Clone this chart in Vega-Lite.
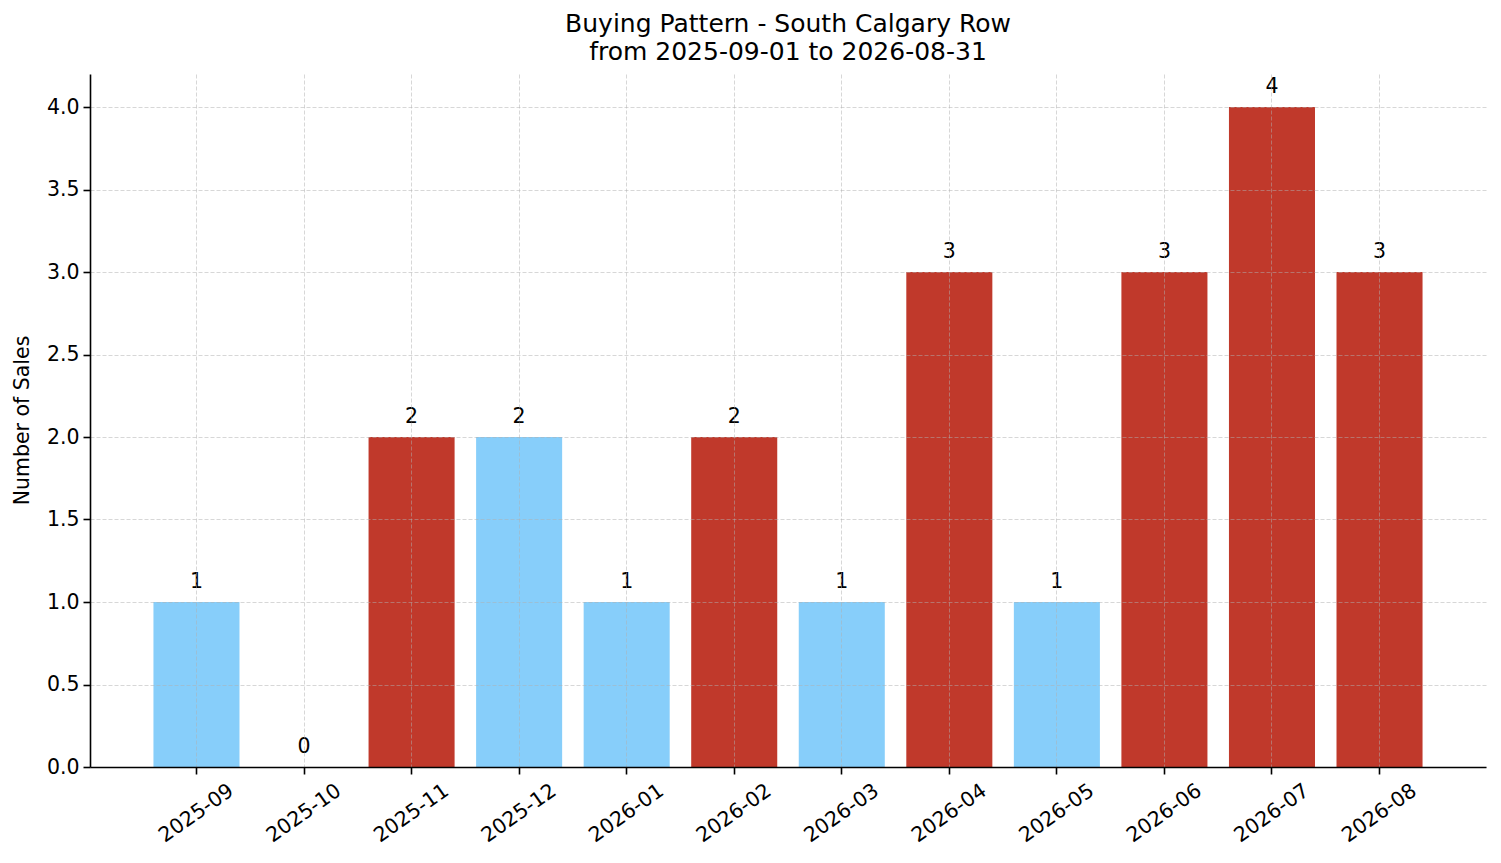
{
  "$schema": "https://vega.github.io/schema/vega-lite/v6.json",
  "width": 1396,
  "height": 693,
  "autosize": {"type": "none"},
  "padding": {"left": 90, "top": 74, "right": 15, "bottom": 96},
  "background": "white",
  "title": {
    "text": ["Buying Pattern - South Calgary Row", "from 2025-09-01 to 2026-08-31"],
    "fontSize": 25,
    "font": "DejaVu Sans",
    "fontWeight": "normal",
    "color": "black",
    "lineHeight": 28,
    "anchor": "middle",
    "baseline": "bottom",
    "offset": -16
  },
  "data": {
    "values": [
      {"month": "2025-09", "sales": 1, "group": "low"},
      {"month": "2025-10", "sales": 0, "group": "low"},
      {"month": "2025-11", "sales": 2, "group": "high"},
      {"month": "2025-12", "sales": 2, "group": "low"},
      {"month": "2026-01", "sales": 1, "group": "low"},
      {"month": "2026-02", "sales": 2, "group": "high"},
      {"month": "2026-03", "sales": 1, "group": "low"},
      {"month": "2026-04", "sales": 3, "group": "high"},
      {"month": "2026-05", "sales": 1, "group": "low"},
      {"month": "2026-06", "sales": 3, "group": "high"},
      {"month": "2026-07", "sales": 4, "group": "high"},
      {"month": "2026-08", "sales": 3, "group": "high"}
    ]
  },
  "encoding": {
    "x": {
      "field": "month",
      "type": "ordinal",
      "sort": null,
      "scale": {"paddingInner": 0.2, "paddingOuter": 0.59},
      "axis": {
        "title": null,
        "labelAngle": -35,
        "labelAlign": "center",
        "labelBaseline": "middle",
        "labelPadding": 39,
        "labelFontSize": 20.5,
        "labelFont": "DejaVu Sans",
        "labelColor": "black",
        "tickSize": 7,
        "tickWidth": 1.6,
        "tickColor": "black",
        "domainColor": "black",
        "domainWidth": 1.6,
        "bandPosition": 0.5,
        "grid": true,
        "gridColor": "#b0b0b0",
        "gridOpacity": 0.5,
        "gridDash": [4, 2],
        "gridWidth": 1,
        "zindex": 1
      }
    },
    "y": {
      "field": "sales",
      "type": "quantitative",
      "scale": {"domain": [0, 4.2], "nice": false, "zero": true},
      "axis": {
        "title": "Number of Sales",
        "titleFont": "DejaVu Sans",
        "titleFontSize": 20.5,
        "titleFontWeight": "normal",
        "titleColor": "black",
        "titleAngle": -90,
        "titleAlign": "center",
        "titleBaseline": "middle",
        "titleX": -68,
        "titleY": 346,
        "values": [0, 0.5, 1, 1.5, 2, 2.5, 3, 3.5, 4],
        "format": ".1f",
        "labelFontSize": 20.5,
        "labelFont": "DejaVu Sans",
        "labelColor": "black",
        "labelPadding": 4,
        "tickSize": 7,
        "tickWidth": 1.6,
        "tickColor": "black",
        "domainColor": "black",
        "domainWidth": 1.6,
        "grid": true,
        "gridColor": "#b0b0b0",
        "gridOpacity": 0.5,
        "gridDash": [4, 2],
        "gridWidth": 1,
        "zindex": 1
      }
    }
  },
  "layer": [
    {
      "mark": {"type": "bar"},
      "encoding": {
        "color": {
          "field": "group",
          "type": "nominal",
          "scale": {"domain": ["low", "high"], "range": ["#87CEFA", "#C0392B"]},
          "legend": null
        }
      }
    },
    {
      "mark": {
        "type": "text",
        "baseline": "alphabetic",
        "align": "center",
        "dy": -14,
        "fontSize": 20.5,
        "font": "DejaVu Sans",
        "color": "black"
      },
      "encoding": {
        "text": {"field": "sales", "type": "quantitative"}
      }
    }
  ],
  "config": {
    "view": {"stroke": null}
  }
}
